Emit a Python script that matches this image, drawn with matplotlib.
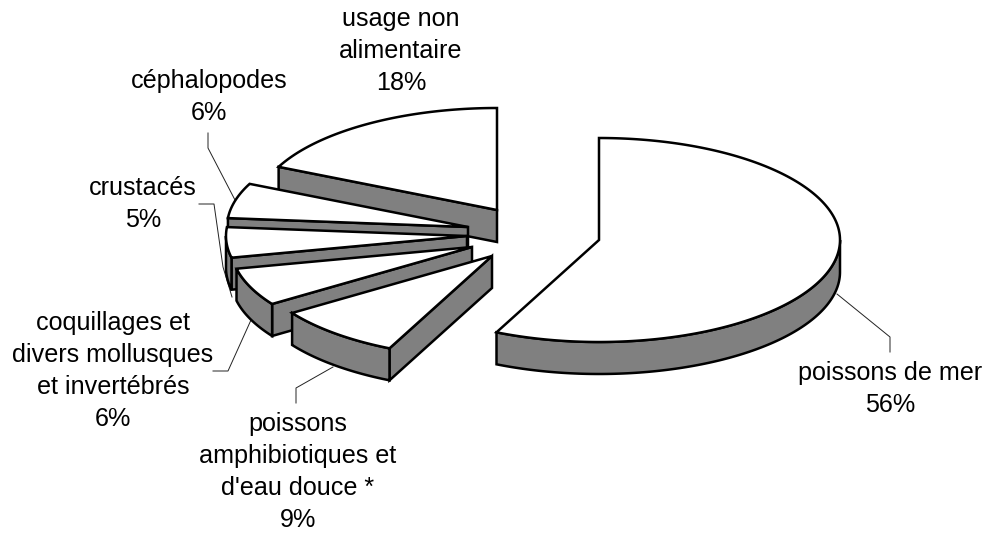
import numpy as np
import matplotlib
matplotlib.use("Agg")
import matplotlib.pyplot as plt
from matplotlib.patches import Polygon

plt.rcParams['font.family'] = ['Liberation Sans', 'DejaVu Sans']

categories = ["poissons de mer", "poissons\namphibiotiques et\nd'eau douce *",
              "coquillages et\ndivers mollusques\net invertébrés", "crustacés",
              "céphalopodes", "usage non\nalimentaire"]
shares = [56.49, 8.5, 5.97, 4.76, 5.51, 17.89]
pct_labels = ["56%", "9%", "6%", "5%", "6%", "18%"]

# layout (pixels)
centers = [(599, 240), (492, 256), (472, 247), (467, 236), (468, 227), (497, 210)]
label_xy = [(890, 389), (298, 472), (113, 371), (143, 204), (209, 97), (401, 51)]
leaders = [[(837, 294), (890, 337), (890, 352)],
           [(333, 367), (296, 388), (296, 403)],
           [(251, 320), (228, 371), (213, 371)],
           [(232, 297), (223, 267), (214, 204), (199, 204)],
           [(235, 200), (208, 148), (208, 133)],
           []]
RX, RY, DEPTH = 241, 102, 32
GREY = '#808080'

fig = plt.figure(figsize=(9.91, 5.33), dpi=100)
ax = fig.add_axes([0, 0, 1, 1])
ax.set_xlim(0, 991)
ax.set_ylim(533, 0)
ax.axis('off')

def pt(c, a, dz=0):
    r = np.radians(a)
    return np.c_[c[0] + RX * np.sin(r), c[1] - RY * np.cos(r) + dz]

def shade(xy, fc, z):
    ax.add_patch(Polygon(xy, closed=True, fc=fc, ec='black', lw=1.8,
                         joinstyle='miter', zorder=z))

angles = np.r_[0, np.cumsum(shares) * 360 / np.sum(shares)]
for i in range(len(shares) - 1, -1, -1):
    c = centers[i]
    a1, a2 = angles[i], angles[i + 1]
    z = 10 + (len(shares) - i) if i else 30
    # cut face on the start edge
    if 180 < a1 < 360:
        e = pt(c, a1)[0]
        shade([c, e, e + [0, DEPTH], (c[0], c[1] + DEPTH)], GREY, z)
    # outer wall, front half only
    lo, hi = max(a1, 90), min(a2, 270)
    if hi > lo:
        t = np.linspace(lo, hi, 120)
        shade(np.r_[pt(c, t), pt(c, t[::-1], DEPTH)], GREY, z)
    # top face
    t = np.linspace(a1, a2, 200)
    shade(np.r_[[c], pt(c, t)], 'white', z)

for i, (name, pct) in enumerate(zip(categories, pct_labels)):
    ax.text(*label_xy[i], name + "\n" + pct, ha='center', va='center', fontsize=18.1,
            color='black', linespacing=1.42, zorder=40)
    if leaders[i]:
        xs, ys = zip(*leaders[i])
        ax.plot(xs, ys, color='#222222', lw=0.7, zorder=5)

fig.savefig("out.png", dpi=100, facecolor='white')
